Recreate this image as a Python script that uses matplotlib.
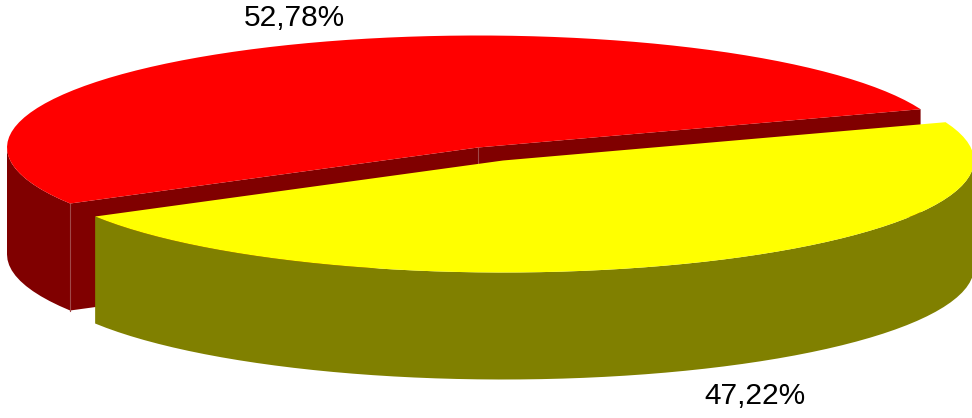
import matplotlib.pyplot as plt
import numpy as np
from matplotlib.patches import Polygon

labels = ['52,78%', '47,22%']
values = [52.78, 47.22]
top_colors = ['#ff0000', '#ffff00']
side_colors = ['#800000', '#808000']

W, H = 972, 418
rx, ry = 471, 112
depth = 107
start = 20.0
explode = (25, 13)
cx, cy = 478, 147.5
seam = '#a04848'


def rim(x0, y0, a0, a1):
    # points on the top ellipse, angles in degrees, counter clockwise
    # few points on purpose, the original has a rough polygon outline
    n = max(int((a1-a0)/2.5), 2)
    t = np.radians(np.linspace(a0, a1, n))
    return np.column_stack([x0 + rx*np.cos(t), y0 - ry*np.sin(t)])


def down(pts):
    return pts + [0, depth]


plt.rcParams['font.family'] = ['Liberation Sans', 'DejaVu Sans']
fig = plt.figure(figsize=(W/100, H/100), dpi=100)
ax = fig.add_axes([0, 0, 1, 1])
ax.set_xlim(0, W)
ax.set_ylim(H, 0)
ax.axis('off')

angles = start + np.cumsum([0] + values)/100*360

# red slice
a0, a1 = angles[0], angles[1]
edge = rim(cx, cy, a0, a1)
ax.add_patch(Polygon(np.vstack([edge[0], [cx, cy], edge[-1], down(edge[[-1]]), [cx, cy+depth], down(edge[[0]])]),
                     fc=side_colors[0], ec='none', zorder=1))
wall = rim(cx, cy, 180, a1)
ax.add_patch(Polygon(np.vstack([wall, down(wall)[::-1]]), fc=side_colors[0], ec='none', zorder=1))
# thin light seams on the corners of the red block
ax.plot([edge[-1, 0]]*2, [edge[-1, 1], edge[-1, 1]+depth], color=seam, lw=0.8, zorder=1.5)
ax.plot([cx, cx], [cy, cy+depth], color=seam, lw=0.8, zorder=1.5)
ax.add_patch(Polygon(np.vstack([[cx, cy], edge]), fc=top_colors[0], ec='none', zorder=2))

# yellow slice, pulled out to the lower right
x1, y1 = cx+explode[0], cy+explode[1]
a0, a1 = angles[1], angles[2]
edge = rim(x1, y1, a0, a1)
wall = rim(x1, y1, a0, 360)
ax.add_patch(Polygon(np.vstack([wall, down(wall)[::-1]]), fc=side_colors[1], ec='none', zorder=3))
ax.add_patch(Polygon(np.vstack([[x1, y1], edge]), fc=top_colors[1], ec='none', zorder=4))

ax.text(294, 18, labels[0], fontsize=21.5, ha='center', va='center', color='black')
ax.text(754.5, 396, labels[1], fontsize=21.5, ha='center', va='center', color='black')

fig.savefig('out.png', dpi=100)
